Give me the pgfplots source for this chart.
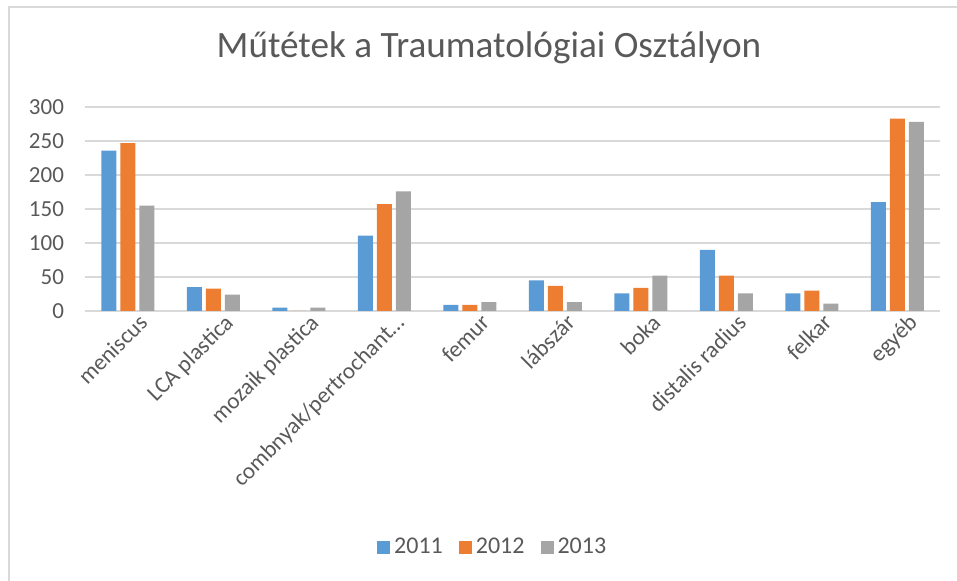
\documentclass[border=0pt]{standalone}
\usepackage{pgfplots}
\pgfplotsset{compat=1.18}
\usepackage{fontspec}
\setmainfont{Carlito}
\definecolor{c1}{HTML}{5B9BD5}
\definecolor{c2}{HTML}{ED7D31}
\definecolor{c3}{HTML}{A5A5A5}
\definecolor{gridgray}{HTML}{D9D9D9}
\definecolor{txt}{HTML}{595959}
\begin{document}
\begin{tikzpicture}[x=1pt,y=1pt]
\path[use as bounding box] (0,0) rectangle (478.5,290.5);
\draw[gridgray, line width=1pt] (4.5,-5) -- (4.5,286.75) -- (490,286.75);
\node[anchor=base, text=txt, font=\fontsize{18.6}{22}\selectfont] at (244.5,261.5) {Műtétek a Traumatológiai Osztályon};
\begin{axis}[
  at={(42.5pt,135pt)}, anchor=south west,
  width=427.5pt, height=102pt, scale only axis,
  ybar=2pt, bar width=7.5pt,
  xmin=-0.5, xmax=9.5, ymin=0, ymax=300,
  ytick={0,50,...,300},
  xtick={0,...,9},
  xticklabels={meniscus, LCA plastica, mozaik plastica, combnyak/pertrochant…, femur, lábszár, boka, distalis radius, felkar, egyéb},
  xticklabel style={rotate=45, anchor=north east, text=txt, font=\fontsize{11.5}{13}\selectfont, inner sep=1pt, yshift=-3pt, xshift=4pt},
  yticklabel style={text=txt, font=\fontsize{11.5}{13}\selectfont, xshift=-7pt},
  ymajorgrids, major grid style={gridgray, line width=1pt},
  axis x line*=bottom, axis y line*=left,
  y axis line style={draw=none},
  x axis line style={draw=gridgray, line width=1pt, -},
  major tick length=0pt,
  /pgf/number format/assume math mode=true,
  legend style={at={(0.478,-1.157)}, anchor=center, draw=none, legend columns=3, font=\fontsize{12}{14}\selectfont, text=txt,
    /tikz/every even column/.append style={column sep=6pt}},
  legend image code/.code={\fill[#1] (-2pt,-3.25pt) rectangle (4.5pt,3.25pt);},
  legend cell align=left,
]
\addplot[fill=c1, draw=none] coordinates {(0,236) (1,35) (2,5) (3,111) (4,9) (5,45) (6,26) (7,90) (8,26) (9,160)};
\addplot[fill=c2, draw=none] coordinates {(0,247) (1,33) (2,0) (3,157) (4,9) (5,37) (6,34) (7,52) (8,30) (9,283)};
\addplot[fill=c3, draw=none] coordinates {(0,155) (1,24) (2,5) (3,176) (4,13) (5,13) (6,52) (7,26) (8,11) (9,278)};
\legend{2011,2012,2013}
\end{axis}
\end{tikzpicture}
\end{document}
